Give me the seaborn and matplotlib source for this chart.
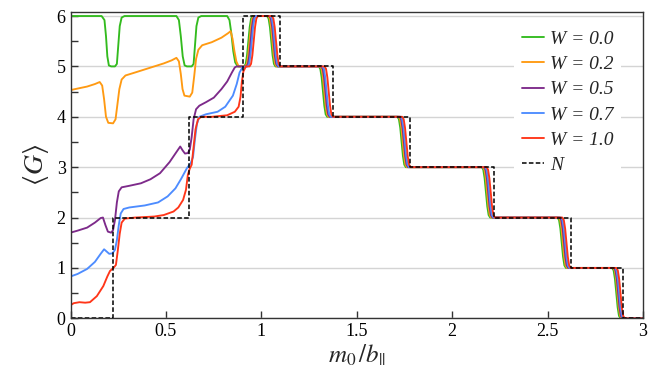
import matplotlib
matplotlib.use('Agg')
import matplotlib.pyplot as plt
import seaborn as sns
from matplotlib.ticker import MultipleLocator

# plateau levels shared by all W curves above m0/b ~ 0.9
stair_y = [5, 5.05, 5.22, 5.5, 5.78, 5.95, 6,
           6, 5.95, 5.78, 5.5, 5.22, 5.05, 5,
           5, 4.95, 4.78, 4.5, 4.22, 4.05, 4,
           4, 3.95, 3.78, 3.5, 3.22, 3.05, 3,
           3, 2.95, 2.78, 2.5, 2.22, 2.05, 2,
           2, 1.95, 1.78, 1.5, 1.22, 1.05, 1,
           1, 0.95, 0.78, 0.5, 0.22, 0.05, 0,
           0]

# W = 0.0
w00_x = [0, 0.163, 0.178, 0.186, 0.193, 0.201, 0.213, 0.233, 0.243, 0.250, 0.258, 0.268, 0.283,
         0.555, 0.568, 0.578, 0.588, 0.598, 0.610, 0.635, 0.645, 0.652, 0.660, 0.670, 0.685,
         0.821, 0.833, 0.843, 0.853, 0.863, 0.876,
         0.910, 0.918, 0.925, 0.932, 0.939, 0.946, 0.954,
         1.030, 1.038, 1.045, 1.052, 1.059, 1.066, 1.074,
         1.301, 1.309, 1.316, 1.323, 1.330, 1.337, 1.345,
         1.713, 1.721, 1.728, 1.735, 1.742, 1.749, 1.757,
         2.155, 2.163, 2.170, 2.177, 2.184, 2.191, 2.199,
         2.552, 2.560, 2.567, 2.574, 2.581, 2.588, 2.596,
         2.838, 2.846, 2.853, 2.860, 2.867, 2.874, 2.882,
         3.0]
w00_y = [6, 6, 5.92, 5.6, 5.2, 5.02, 5.0, 5.0, 5.05, 5.4, 5.8, 5.97, 6,
         6, 5.92, 5.6, 5.2, 5.02, 5.0, 5.0, 5.05, 5.4, 5.8, 5.97, 6,
         6, 5.92, 5.65, 5.3, 5.08, 5.0] + stair_y

# W = 0.2
w02_x = [0, 0.037, 0.087, 0.128, 0.153, 0.166, 0.176, 0.186, 0.198, 0.223,
         0.236, 0.246, 0.256, 0.268, 0.288, 0.339, 0.389, 0.439, 0.489, 0.530,
         0.555, 0.568, 0.578, 0.587, 0.597, 0.625, 0.638, 0.648, 0.658, 0.670,
         0.690, 0.740, 0.791, 0.826, 0.839, 0.849, 0.859, 0.869, 0.881,
         0.916, 0.924, 0.931, 0.938, 0.945, 0.952, 0.960,
         1.036, 1.044, 1.051, 1.058, 1.065, 1.072, 1.080,
         1.308, 1.316, 1.323, 1.330, 1.337, 1.344, 1.352,
         1.719, 1.727, 1.734, 1.741, 1.748, 1.755, 1.763,
         2.161, 2.169, 2.176, 2.183, 2.190, 2.197, 2.205,
         2.558, 2.566, 2.573, 2.580, 2.587, 2.594, 2.602,
         2.844, 2.852, 2.859, 2.866, 2.873, 2.880, 2.888,
         3.0]
w02_y = [4.53, 4.56, 4.6, 4.65, 4.69, 4.62, 4.35, 4.0, 3.88, 3.87,
         3.95, 4.25, 4.55, 4.74, 4.82, 4.88, 4.94, 5.0, 5.06, 5.12,
         5.17, 5.1, 4.85, 4.55, 4.42, 4.4, 4.48, 4.8, 5.15, 5.33,
         5.42, 5.48, 5.57, 5.66, 5.7, 5.55, 5.3, 5.1, 5.0] + stair_y

# W = 0.5
w05_x = [0, 0.037, 0.087, 0.128, 0.158, 0.170, 0.183, 0.196, 0.213, 0.223,
         0.233, 0.243, 0.253, 0.268, 0.308, 0.369, 0.419, 0.469, 0.519, 0.555,
         0.575, 0.588, 0.600, 0.615, 0.625, 0.635, 0.645, 0.658, 0.675, 0.710,
         0.751, 0.791, 0.821, 0.846, 0.861, 0.871,
         0.922, 0.930, 0.937, 0.944, 0.951, 0.958, 0.966,
         1.042, 1.050, 1.057, 1.064, 1.071, 1.078, 1.086,
         1.314, 1.322, 1.329, 1.336, 1.343, 1.350, 1.358,
         1.725, 1.733, 1.740, 1.747, 1.754, 1.761, 1.769,
         2.167, 2.175, 2.182, 2.189, 2.196, 2.203, 2.211,
         2.564, 2.572, 2.579, 2.586, 2.593, 2.600, 2.608,
         2.848, 2.856, 2.863, 2.870, 2.877, 2.884, 2.892,
         3.0]
w05_y = [1.70, 1.74, 1.8, 1.9, 1.99, 2.0, 1.85, 1.72, 1.70, 1.75,
         1.95, 2.3, 2.52, 2.6, 2.63, 2.68, 2.76, 2.88, 3.1, 3.3,
         3.41, 3.33, 3.27, 3.28, 3.35, 3.6, 3.95, 4.15, 4.22, 4.29,
         4.38, 4.55, 4.7, 4.88, 4.98, 5.0] + stair_y

# W = 0.7
w07_x = [0, 0.037, 0.087, 0.128, 0.158, 0.176, 0.188, 0.203, 0.220, 0.233,
         0.243, 0.253, 0.263, 0.278, 0.308, 0.389, 0.459, 0.509, 0.550, 0.580,
         0.610, 0.630, 0.642, 0.652, 0.662, 0.675, 0.710, 0.771, 0.811, 0.851,
         0.871, 0.886, 0.901,
         0.928, 0.936, 0.943, 0.950, 0.957, 0.964, 0.972,
         1.047, 1.055, 1.062, 1.069, 1.076, 1.083, 1.091,
         1.320, 1.328, 1.335, 1.342, 1.349, 1.356, 1.364,
         1.730, 1.738, 1.745, 1.752, 1.759, 1.766, 1.774,
         2.172, 2.180, 2.187, 2.194, 2.201, 2.208, 2.216,
         2.570, 2.578, 2.585, 2.592, 2.599, 2.606, 2.614,
         2.853, 2.861, 2.868, 2.875, 2.882, 2.889, 2.897,
         3.0]
w07_y = [0.83, 0.88, 0.98, 1.12, 1.28, 1.37, 1.33, 1.28, 1.29, 1.36,
         1.55, 1.85, 2.08, 2.17, 2.2, 2.24, 2.3, 2.42, 2.58, 2.77,
         2.98, 3.08, 3.2, 3.55, 3.85, 4.0, 4.05, 4.1, 4.2, 4.42,
         4.65, 4.88, 4.98] + stair_y

# W = 1.0
w10_x = [0, 0.017, 0.047, 0.077, 0.102, 0.138, 0.172, 0.193, 0.207, 0.225,
         0.238, 0.248, 0.258, 0.268, 0.285, 0.339, 0.439, 0.489, 0.540, 0.565,
         0.590, 0.605, 0.615, 0.625, 0.635, 0.645, 0.655, 0.668, 0.685, 0.740,
         0.821, 0.861, 0.881, 0.891, 0.898, 0.906, 0.919,
         0.938, 0.946, 0.953, 0.960, 0.967, 0.974, 0.982,
         1.055, 1.063, 1.070, 1.077, 1.084, 1.091, 1.099,
         1.331, 1.339, 1.346, 1.353, 1.360, 1.367, 1.375,
         1.738, 1.746, 1.753, 1.760, 1.767, 1.774, 1.782,
         2.180, 2.188, 2.195, 2.202, 2.209, 2.216, 2.224,
         2.577, 2.585, 2.592, 2.599, 2.606, 2.613, 2.621,
         2.860, 2.868, 2.875, 2.882, 2.889, 2.896, 2.904,
         3.0]
w10_y = [0.26, 0.3, 0.32, 0.31, 0.32, 0.44, 0.64, 0.83, 0.94, 1.0,
         1.06, 1.35, 1.68, 1.9, 1.98, 2.0, 2.02, 2.05, 2.12, 2.2,
         2.35, 2.55, 2.85, 2.97, 3.05, 3.4, 3.75, 3.95, 4.0, 4.0,
         4.03, 4.1, 4.2, 4.4, 4.7, 4.9, 5.0] + stair_y

# number of channels N (step edges)
n_x = [0, 0.222, 0.622, 0.903, 1.098, 1.374, 1.779, 2.221, 2.622, 2.896, 3.0]
n_y = [0, 2, 4, 6, 5, 4, 3, 2, 1, 0, 0]

series = [
    (w00_x, w00_y, 'W = 0.0', '#33bb1e'),
    (w02_x, w02_y, 'W = 0.2', '#ff9a12'),
    (w05_x, w05_y, 'W = 0.5', '#7d2a8a'),
    (w07_x, w07_y, 'W = 0.7', '#4d8cff'),
    (w10_x, w10_y, 'W = 1.0', '#ff3518'),
]

sns.set_theme(style='white')
plt.rcParams['font.family'] = ['Liberation Serif', 'DejaVu Serif']
plt.rcParams['mathtext.fontset'] = 'stix'

fig, ax = plt.subplots(figsize=(6.54, 3.87), dpi=100)
fig.subplots_adjust(left=0.1078, right=0.9832, bottom=0.1775, top=0.969)

for xs, ys, lab, col in series:
    sns.lineplot(x=xs, y=ys, ax=ax, color=col, lw=1.35, label=lab,
                 estimator=None, sort=False)

sns.lineplot(x=n_x, y=n_y, ax=ax, color='black', lw=1.1, ls=(0, (3, 1.5)),
             drawstyle='steps-post', label='N', estimator=None, sort=False)

ax.set_xlim(0, 3)
ax.set_ylim(0, 6.08)
ax.xaxis.set_major_locator(MultipleLocator(0.5))
ax.yaxis.set_major_locator(MultipleLocator(1))
ax.yaxis.set_minor_locator(MultipleLocator(0.5))
ax.xaxis.set_major_formatter(plt.FuncFormatter(lambda v, p: f'{v:g}'))
ax.tick_params(which='both', direction='in', length=5, width=1, colors='#333333',
               labelcolor='black', labelsize=13, bottom=True, left=True)
ax.yaxis.grid(True, color='#d4d4d4', lw=1)
ax.set_axisbelow(True)
for s in ax.spines.values():
    s.set_color('#333333')
    s.set_linewidth(1)

ax.set_xlabel(r'$m_0\,/b_{||}$', fontsize=18, labelpad=2)
ax.set_ylabel(r'$\langle G\rangle$', fontsize=20, labelpad=4)

ax.legend(loc='upper right', bbox_to_anchor=(0.962, 0.965), borderaxespad=0,
          frameon=True, facecolor='white', edgecolor='none', framealpha=1,
          prop={'family': 'Liberation Serif', 'style': 'italic', 'size': 14},
          handlelength=1.15, handletextpad=0.3, labelspacing=0.39,
          borderpad=0.4)

fig.savefig('out.png', dpi=100)
